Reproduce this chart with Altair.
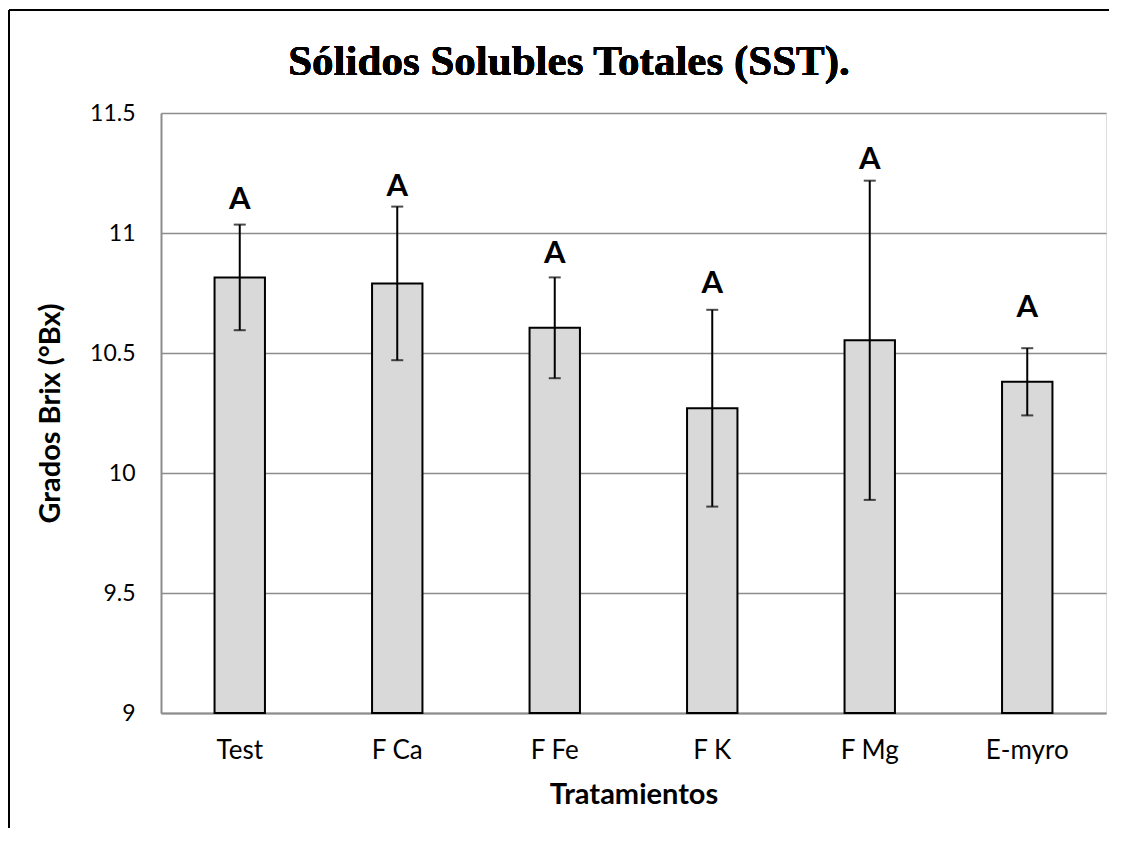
import altair as alt
import pandas as pd

categories = ["Test", "F Ca", "F Fe", "F K", "F Mg", "E-myro"]
means = [10.815, 10.79, 10.605, 10.27, 10.553, 10.38]
errors = [0.22, 0.32, 0.21, 0.41, 0.665, 0.14]
letters = ["A", "A", "A", "A", "A", "A"]
letter_y = [11.10, 11.155, 10.875, 10.75, 11.267, 10.651]
y_ticks = [9, 9.5, 10, 10.5, 11, 11.5]
chart_title = "Sólidos Solubles Totales (SST)."

df = pd.DataFrame({
    "trat": categories,
    "mean": means,
    "lo": [m - e for m, e in zip(means, errors)],
    "hi": [m + e for m, e in zip(means, errors)],
    "letter": letters,
    "ly": letter_y,
})

W, H = 945, 600
FONT = "Lato"
GRID = "#8c8c8c"

xenc = alt.X(
    "trat:N", sort=categories,
    scale=alt.Scale(paddingInner=0.68, paddingOuter=0.34),
    axis=alt.Axis(title="Tratamientos", labelAngle=0, ticks=False,
                  labelFont=FONT, labelFontSize=26, labelColor="black",
                  labelPadding=24, titleFont=FONT, titleFontSize=29,
                  titleFontWeight="bold", titleColor="black", titlePadding=17,
                  domainColor=GRID, domainWidth=2, grid=False),
)
yscale = alt.Scale(domain=[9, 11.5], zero=False, nice=False)

bars = alt.Chart(df).mark_bar(fill="#d9d9d9", stroke="black", strokeWidth=2).encode(
    x=xenc,
    y=alt.Y("mean:Q", scale=yscale,
            axis=alt.Axis(title="Grados Brix (°Bx)", values=y_ticks, format="~g",
                          ticks=False, labelFont=FONT, labelFontSize=23,
                          labelColor="black", labelPadding=26,
                          titleFont=FONT, titleFontSize=29, titleFontWeight="bold",
                          titleColor="black", titlePadding=24,
                          grid=True, gridColor=GRID, gridWidth=1.5,
                          domainColor=GRID, domainWidth=2)),
    y2=alt.datum(9),
)

err = alt.Chart(df).mark_rule(color="black", strokeWidth=2).encode(
    x=alt.X("trat:N", sort=categories), y="lo:Q", y2="hi:Q")
cap_hi = alt.Chart(df).mark_tick(color="black", thickness=2, size=12).encode(
    x=alt.X("trat:N", sort=categories), y="hi:Q")
cap_lo = alt.Chart(df).mark_tick(color="black", thickness=2, size=12).encode(
    x=alt.X("trat:N", sort=categories), y="lo:Q")
labels = alt.Chart(df).mark_text(font=FONT, fontSize=31, fontWeight="bold",
                                 color="black", baseline="alphabetic").encode(
    x=alt.X("trat:N", sort=categories), y="ly:Q", text="letter:N")

title_mark = alt.Chart(df).mark_text(
    font="Liberation Serif", fontSize=43, fontWeight="bold", color="black",
    baseline="alphabetic", align="center", text=chart_title,
).encode(x=alt.value(408), y=alt.value(-38))

frame_top = alt.Chart(df).mark_rule(color="black", strokeWidth=2).encode(
    x=alt.value(-152), x2=alt.value(W + 10), y=alt.value(-103))
frame_left = alt.Chart(df).mark_rule(color="black", strokeWidth=2).encode(
    x=alt.value(-152), y=alt.value(-103), y2=alt.value(H + 125))

chart = alt.layer(bars, err, cap_hi, cap_lo, labels, title_mark,
                  frame_top, frame_left).properties(
    width=W, height=H,
    autosize=alt.AutoSizeParams(type="none"),
    padding={"left": 153, "top": 105, "right": 3, "bottom": 115},
).configure_view(stroke=None).configure(background="white")

chart.save("out.html", embed_options={"renderer": "svg", "actions": False})
